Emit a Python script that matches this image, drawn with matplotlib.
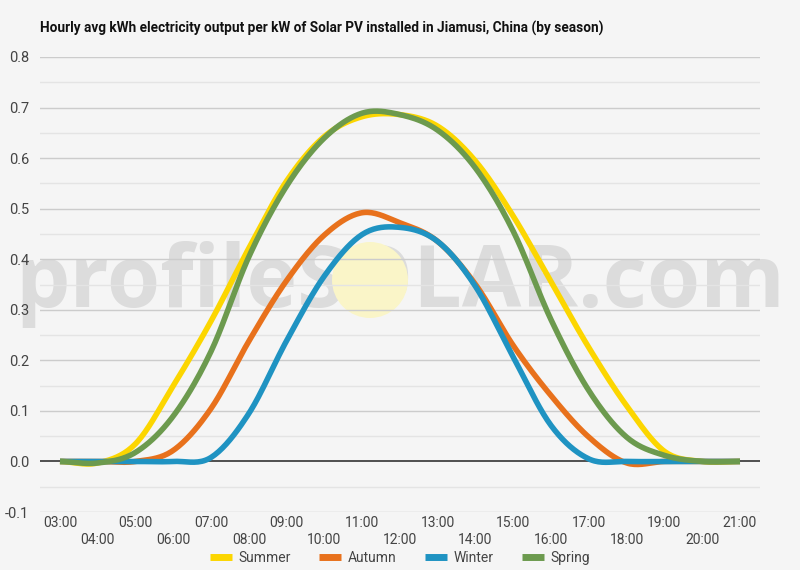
import numpy as np
import matplotlib
matplotlib.use("Agg")
import matplotlib.pyplot as plt
from matplotlib.patches import Ellipse

plt.rcParams['font.family'] = ['Roboto', 'DejaVu Sans']

hours = list(range(3, 22))
hour_labels = [f"{h:02d}:00" for h in hours]
summer = [0, -0.003, 0.035, 0.15, 0.278, 0.422, 0.555, 0.643, 0.682, 0.686, 0.663, 0.594, 0.485, 0.355, 0.225, 0.11, 0.02, 0, 0]
autumn = [0, 0, 0, 0.022, 0.105, 0.238, 0.358, 0.448, 0.492, 0.472, 0.435, 0.35, 0.229, 0.13, 0.048, -0.003, 0, 0, 0]
winter = [0, 0, 0, 0, 0.008, 0.095, 0.239, 0.367, 0.449, 0.463, 0.435, 0.346, 0.206, 0.071, 0.005, 0, 0, 0, 0]
spring = [0, -0.003, 0.018, 0.09, 0.218, 0.405, 0.545, 0.64, 0.689, 0.686, 0.655, 0.58, 0.455, 0.28, 0.14, 0.048, 0.012, 0, 0]
series_names = ["Summer", "Autumn", "Winter", "Spring"]
series_vals = [summer, autumn, winter, spring]
colors = ["#fcd600", "#e8711c", "#1f93c2", "#6c9a4e"]
y_ticks = [-0.1, 0.0, 0.1, 0.2, 0.3, 0.4, 0.5, 0.6, 0.7, 0.8]


def smooth(x, y, n=20):
    # Catmull-Rom spline through the points (drawing only)
    x = np.asarray(x, float); y = np.asarray(y, float)
    xp = np.concatenate([[2 * x[0] - x[1]], x, [2 * x[-1] - x[-2]]])
    yp = np.concatenate([[y[0]], y, [y[-1]]])
    xs, ys = [], []
    for i in range(1, len(xp) - 2):
        t = np.linspace(0, 1, n, endpoint=False)
        p0, p1, p2, p3 = yp[i - 1], yp[i], yp[i + 1], yp[i + 2]
        yy = 0.5 * ((2 * p1) + (-p0 + p2) * t + (2 * p0 - 5 * p1 + 4 * p2 - p3) * t ** 2
                    + (-p0 + 3 * p1 - 3 * p2 + p3) * t ** 3)
        xx = xp[i] + (xp[i + 1] - xp[i]) * t
        xs.append(xx); ys.append(yy)
    xs.append([x[-1]]); ys.append([y[-1]])
    return np.concatenate(xs), np.concatenate(ys)


bg = "#f5f5f5"
fig = plt.figure(figsize=(8, 5.7), dpi=100, facecolor=bg)
ax = fig.add_axes([0.05, 1 - 512 / 570, 0.90, (512 - 57) / 570])
ax.patch.set_alpha(0)
ax.set_zorder(1)

px_per_hour = 680 / 18
ax.set_xlim(3 - 20 / px_per_hour, 21 + 20 / px_per_hour)
ax.set_ylim(-0.1, 0.8)

# gridlines
for k in range(-2, 17):
    v = k * 0.05
    if k == 0:
        continue
    ax.axhline(v, color="#cccccc" if k % 2 == 0 else "#e4e4e4", lw=1, zorder=1)
ax.axhline(0, color="#333333", lw=1.2, zorder=2)

# watermark (behind the axes)
fig.text(0.5, 1 - 285 / 570, "profileSOLAR.com", ha="center", va="center",
         fontsize=62, fontweight="bold", family=["Open Sans", "DejaVu Sans"],
         color="#dcdcdc", zorder=-2)
sun = Ellipse((370 / 800, 1 - 280 / 570), 76 / 800, 76 / 570, transform=fig.transFigure,
              facecolor="#faf5c8", edgecolor="none", zorder=-1)
fig.patches.append(sun)

for name, vals, c in zip(series_names, series_vals, colors):
    xs, ys = smooth(hours, vals)
    ax.plot(xs, ys, color=c, lw=4, label=name, zorder=3, solid_capstyle="butt")

for s in ax.spines.values():
    s.set_visible(False)
ax.set_yticks(y_ticks)
ax.set_yticklabels([f"{v:.1f}" for v in y_ticks], fontsize=10.5, color="#444444")
ax.tick_params(axis="y", length=0, pad=8)
ax.set_xticks([])

for i, (h, lab) in enumerate(zip(hours, hour_labels)):
    yoff = -0.008 if i % 2 == 0 else -0.047
    ax.text(h, yoff, lab, transform=ax.get_xaxis_transform(), ha="center", va="top",
            fontsize=10, color="#444444")

fig.text(40 / 800, 1 - 28 / 570, "Hourly avg kWh electricity output per kW of Solar PV installed in Jiamusi, China (by season)",
         fontsize=9.8, fontweight="bold", color="#111111", ha="left", va="center")

leg = fig.legend(loc="center", bbox_to_anchor=(0.5, 1 - 558 / 570), ncol=4, frameon=False,
                 fontsize=10, handlelength=1.6, handletextpad=0.5, columnspacing=2.0)
for t in leg.get_texts():
    t.set_color("#444444")
for l in leg.get_lines():
    l.set_linewidth(5)

fig.savefig("out.png", dpi=100, facecolor=bg)
